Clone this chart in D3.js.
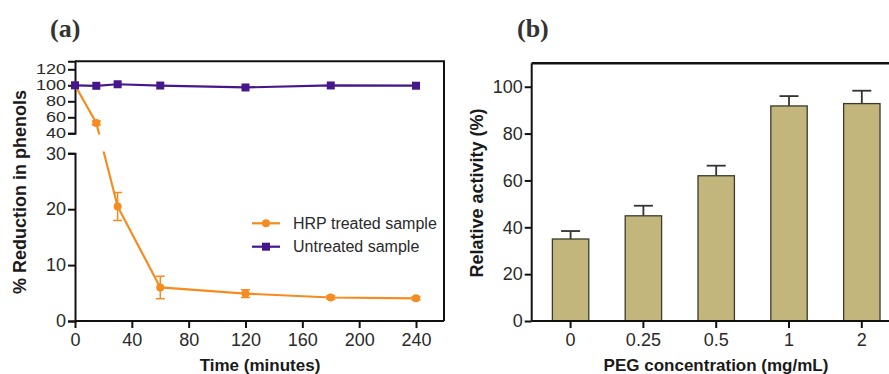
<!DOCTYPE html>
<html lang='en'>
<head>
	<meta charset='utf-8'>
	<script type='text/javascript' src='https://d3js.org/d3.v7.min.js'></script>
	<style type='text/css'>
		body { margin: 0; background: #fff; }
		svg { display: block; }
		.tick text { font-family: 'Liberation Sans', Arial, sans-serif; font-size: 18px; fill: #2a2a2a; }
		.tick line, .domain { stroke: #111; stroke-width: 2px; }
		.axis-label { font-family: 'Liberation Sans', Arial, sans-serif; font-weight: bold; fill: #1a1a1a; }
		.panel-title { font-family: 'Liberation Serif', 'Times New Roman', serif; font-weight: bold; font-size: 26px; fill: #333; }
		.legend text { font-family: 'Liberation Sans', Arial, sans-serif; font-size: 16px; fill: #2a2a2a; }
	</style>
</head>
<body>
<div id='chart'></div>
<script type='text/javascript'>
	// panel (a) data
	var timePoints = [0, 15, 30, 60, 120, 180, 240];
	var hrpValues = [100, 53, 20.5, 6, 4.9, 4.2, 4.05];
	var hrpErrors = [0, 2.5, 2.5, 2, 0.7, 0.3, 0.3];
	var untreatedValues = [100, 99.4, 101.3, 99.7, 97.3, 99.8, 99.5];
	var timeTicks = [0, 40, 80, 120, 160, 200, 240];
	var upperTicks = [40, 60, 80, 100, 120];
	var lowerTicks = [0, 10, 20, 30];

	// panel (b) data
	var pegLabels = ['0', '0.25', '0.5', '1', '2'];
	var activityValues = [35, 44.9, 62, 91.8, 92.8];
	var activityErrors = [3.4, 4.3, 4.3, 4.2, 5.5];
	var activityTicks = [0, 20, 40, 60, 80, 100];

	var width = 889, height = 374;
	var orange = '#f68b1f', purple = '#46178c';

	var svg = d3.select('#chart').append('svg')
		.attr('width', width)
		.attr('height', height);

	// ---------- panel (a) ----------
	var ax0 = 75, ax1 = 444, yBottom = 321, yTop = 61.3;
	var x = d3.scaleLinear().domain([0, 260]).range([ax0, ax0 + 260 * 341 / 240]);
	var yLower = d3.scaleLinear().domain([0, 30]).range([yBottom, 153.3]);
	var yUpper = d3.scaleLinear().domain([40, 130]).range([133.3, yTop]);
	// broken scale: lower segment 0-30, upper segment 40-130
	var y = d3.scaleLinear().domain([0, 30, 40, 130]).range([yBottom, 153.3, 133.3, yTop]);

	svg.append('text').attr('class', 'panel-title')
		.attr('x', 50).attr('y', 37).text('(a)');

	var clip = svg.append('defs').append('clipPath').attr('id', 'brk');
	clip.append('rect').attr('x', 0).attr('y', 0).attr('width', 450).attr('height', 134.5);
	clip.append('rect').attr('x', 0).attr('y', 151.5).attr('width', 450).attr('height', 200);

	// frame (top and right)
	svg.append('path')
		.attr('d', 'M' + ax0 + ',' + yTop + 'H' + ax1 + 'V' + yBottom)
		.attr('fill', 'none').attr('stroke', '#111').attr('stroke-width', 2);

	svg.append('g')
		.attr('transform', 'translate(0,' + yBottom + ')')
		.call(d3.axisBottom(x).tickValues(timeTicks).tickSizeOuter(0).tickSize(7).tickPadding(5))
		.call(function(g){ g.select('.domain').attr('d', 'M' + ax0 + ',0H' + ax1); });

	svg.append('g')
		.attr('transform', 'translate(' + ax0 + ',0)')
		.call(d3.axisLeft(yLower).tickValues(lowerTicks).tickSizeOuter(0).tickSize(7).tickPadding(2));

	var upperAxis = svg.append('g')
		.attr('transform', 'translate(' + ax0 + ',0)')
		.call(d3.axisLeft(yUpper).tickValues(upperTicks).tickSizeOuter(0).tickSize(7).tickPadding(2));
	upperAxis.selectAll('.tick text').attr('transform', 'scale(1,0.78)');

	var plotA = svg.append('g').attr('clip-path', 'url(#brk)');

	var line = d3.line()
		.x(function(d){ return x(d[0]); })
		.y(function(d){ return y(d[1]); });

	var hrp = timePoints.map(function(t, i){ return [t, hrpValues[i], hrpErrors[i]]; });
	var untreated = timePoints.map(function(t, i){ return [t, untreatedValues[i]]; });

	plotA.append('path').datum(hrp)
		.attr('d', line).attr('fill', 'none')
		.attr('stroke', orange).attr('stroke-width', 2.2);

	var errs = plotA.selectAll('.err-a').data(hrp.filter(function(d){ return d[2] > 0; }))
		.enter().append('g').attr('class', 'err-a')
		.attr('stroke', orange).attr('stroke-width', 1.5);
	errs.append('line')
		.attr('x1', function(d){ return x(d[0]); }).attr('x2', function(d){ return x(d[0]); })
		.attr('y1', function(d){ return y(d[1] - d[2]); }).attr('y2', function(d){ return y(d[1] + d[2]); });
	errs.append('line')
		.attr('x1', function(d){ return x(d[0]) - 4.5; }).attr('x2', function(d){ return x(d[0]) + 4.5; })
		.attr('y1', function(d){ return y(d[1] + d[2]); }).attr('y2', function(d){ return y(d[1] + d[2]); });
	errs.append('line')
		.attr('x1', function(d){ return x(d[0]) - 4.5; }).attr('x2', function(d){ return x(d[0]) + 4.5; })
		.attr('y1', function(d){ return y(d[1] - d[2]); }).attr('y2', function(d){ return y(d[1] - d[2]); });

	plotA.selectAll('.dot').data(hrp).enter().append('circle')
		.attr('cx', function(d){ return x(d[0]); })
		.attr('cy', function(d){ return y(d[1]); })
		.attr('r', 4).attr('fill', orange);

	plotA.append('path').datum(untreated)
		.attr('d', line).attr('fill', 'none')
		.attr('stroke', purple).attr('stroke-width', 2.2);

	plotA.selectAll('.sq').data(untreated).enter().append('rect')
		.attr('x', function(d){ return x(d[0]) - 4; })
		.attr('y', function(d){ return y(d[1]) - 4; })
		.attr('width', 8).attr('height', 8).attr('fill', purple);

	// legend
	var legend = svg.append('g').attr('class', 'legend');
	var legendItems = [
		{ name: 'HRP treated sample', color: orange, shape: 'circle' },
		{ name: 'Untreated sample', color: purple, shape: 'square' }
	];
	var li = legend.selectAll('.li').data(legendItems).enter().append('g')
		.attr('transform', function(d, i){ return 'translate(252,' + (223.3 + i * 23.4) + ')'; });
	li.append('line').attr('x1', 0).attr('x2', 28)
		.attr('stroke', function(d){ return d.color; }).attr('stroke-width', 2.2);
	li.filter(function(d){ return d.shape === 'circle'; }).append('circle')
		.attr('cx', 14).attr('r', 4).attr('fill', function(d){ return d.color; });
	li.filter(function(d){ return d.shape === 'square'; }).append('rect')
		.attr('x', 10).attr('y', -4).attr('width', 8).attr('height', 8).attr('fill', function(d){ return d.color; });
	li.append('text').attr('x', 41).attr('y', 5.5).text(function(d){ return d.name; });

	svg.append('text').attr('class', 'axis-label')
		.attr('transform', 'translate(26,192) rotate(-90)')
		.attr('text-anchor', 'middle').style('font-size', '18px')
		.text('% Reduction in phenols');
	svg.append('text').attr('class', 'axis-label')
		.attr('x', 260).attr('y', 371)
		.attr('text-anchor', 'middle').style('font-size', '17px')
		.text('Time (minutes)');

	// ---------- panel (b) ----------
	var bx0 = 531.7, bTop = 63.3;
	var xb = d3.scaleBand().domain(pegLabels).range([bx0, bx0 + 369])
		.paddingInner(0.5).paddingOuter(0.284);
	var yb = d3.scaleLinear().domain([0, 110]).range([yBottom, bTop]);

	svg.append('text').attr('class', 'panel-title')
		.attr('x', 517).attr('y', 37).text('(b)');

	svg.append('line')
		.attr('x1', bx0).attr('x2', width)
		.attr('y1', bTop).attr('y2', bTop)
		.attr('stroke', '#111').attr('stroke-width', 2.5);

	var bars = svg.append('g');
	bars.selectAll('.bar-err').data(pegLabels).enter().append('g')
		.attr('stroke', '#333').attr('stroke-width', 1.8)
		.each(function(d, i){
			var cx = xb(d) + xb.bandwidth() / 2;
			var g = d3.select(this);
			g.append('line').attr('x1', cx).attr('x2', cx)
				.attr('y1', yb(activityValues[i])).attr('y2', yb(activityValues[i] + activityErrors[i]));
			g.append('line').attr('x1', cx - 9.5).attr('x2', cx + 9.5)
				.attr('y1', yb(activityValues[i] + activityErrors[i])).attr('y2', yb(activityValues[i] + activityErrors[i]));
		});
	bars.selectAll('.bar').data(pegLabels).enter().append('rect')
		.attr('x', function(d){ return xb(d); })
		.attr('y', function(d, i){ return yb(activityValues[i]); })
		.attr('width', xb.bandwidth())
		.attr('height', function(d, i){ return yBottom - yb(activityValues[i]); })
		.attr('fill', '#c3b67d').attr('stroke', '#3b3a2c').attr('stroke-width', 1.3);

	svg.append('g')
		.attr('transform', 'translate(0,' + yBottom + ')')
		.call(d3.axisBottom(xb).tickSizeOuter(0).tickSize(7).tickPadding(5))
		.call(function(g){ g.select('.domain').attr('d', 'M' + bx0 + ',0H' + width); });

	svg.append('g')
		.attr('transform', 'translate(' + bx0 + ',0)')
		.call(d3.axisLeft(yb).tickValues(activityTicks).tickSizeOuter(0).tickSize(7).tickPadding(2))
		.call(function(g){ g.select('.domain').attr('d', 'M0,' + bTop + 'V' + yBottom); });

	svg.append('text').attr('class', 'axis-label')
		.attr('transform', 'translate(483,193) rotate(-90)')
		.attr('text-anchor', 'middle').style('font-size', '18px')
		.text('Relative activity (%)');
	svg.append('text').attr('class', 'axis-label')
		.attr('x', 716).attr('y', 371)
		.attr('text-anchor', 'middle').style('font-size', '17px')
		.text('PEG concentration (mg/mL)');
</script>
</body>
</html>
